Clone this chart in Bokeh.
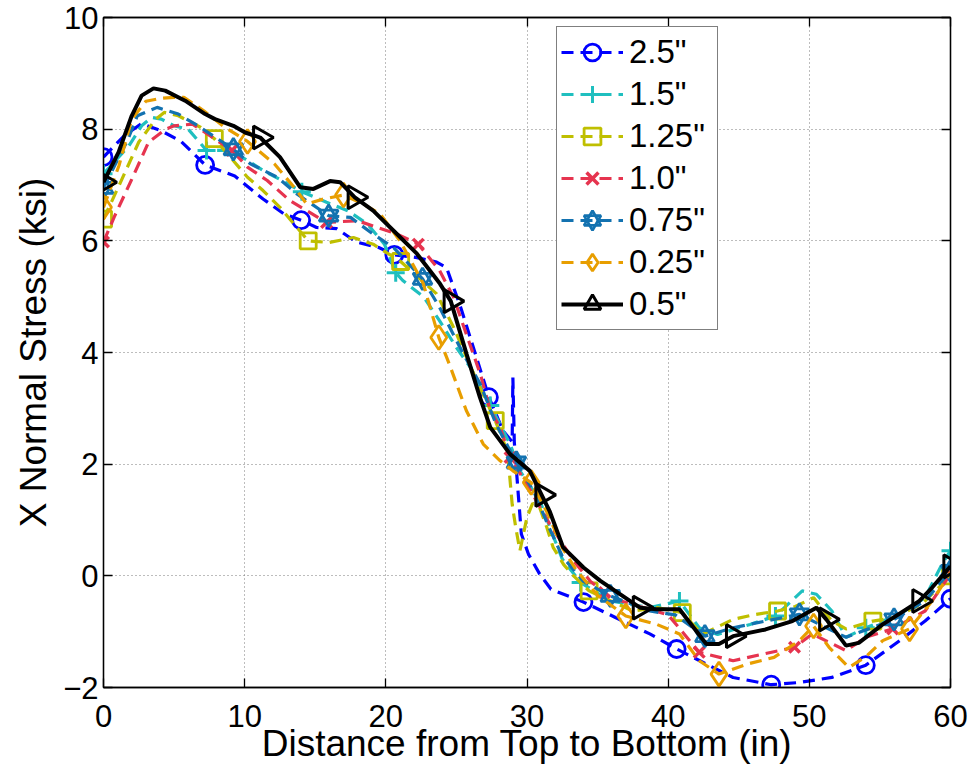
import numpy as np
from bokeh.plotting import figure
from bokeh.models import FixedTicker, LinearAxis, Legend, LegendItem, Range1d, Title
from bokeh.embed import file_html
from bokeh.resources import INLINE

# ---------------- data ----------------
labels = ['2.5"', '1.5"', '1.25"', '1.0"', '0.75"', '0.25"', '0.5"']
x_ticks = [0, 10, 20, 30, 40, 50, 60]
y_ticks = [-2, 0, 2, 4, 6, 8, 10]

x_25 = [0, 1.5, 2.7, 4.1, 5.5, 7.2, 9.3, 11.3, 12.8, 14.0, 15.1, 16.5, 17.9, 19.5, 20.6, 22.2, 23.6, 24.3, 25.3, 26.2,
        27.3, 28.3, 28.95, 29.0, 29.1, 29.4, 29.6, 30.1, 30.9, 31.7, 34.0, 36.3, 38.7, 40.6, 42.7, 44.6, 47.3, 49.3,
        51.6, 54.0, 56.4, 58.2, 60]
y_25 = [7.5, 7.89, 8.1, 7.97, 7.78, 7.36, 7.16, 6.75, 6.48, 6.37, 6.24, 6.22, 5.98, 5.88, 5.75, 5.70, 5.62, 5.52, 4.81,
        4.09, 3.2, 2.6, 2.4, 3.55, 2.4, 1.4, 0.75, 0.39, 0.03, -0.24, -0.47, -0.75, -1.04, -1.31, -1.58, -1.82, -1.95,
        -1.91, -1.82, -1.6, -1.16, -0.81, -0.41]
mx_25 = [0, 7.2, 14.0, 20.6, 27.3, 34.0, 40.6, 47.3, 54.0, 60]
my_25 = [7.5, 7.36, 6.37, 5.75, 3.2, -0.47, -1.31, -1.95, -1.6, -0.41]

x_15 = [0, 1.8, 2.7, 3.4, 4.1, 5.0, 6.0, 7.3, 8.6, 10.0, 11.3, 12.5, 14.05, 15.8, 17.3, 18.7, 19.9, 20.7, 21.2, 22.7,
        23.8, 25.0, 26.0, 27.4, 28.8, 29.5, 30.9, 31.8, 32.5, 33.8, 35.9, 38.7, 40.8, 42.2, 43.5, 45.8, 47.6, 49.5,
        50.5, 51.6, 52.6, 54.0, 56.4, 58.2, 59.4, 60]
y_15 = [7.2, 7.7, 8.06, 8.21, 8.18, 8.06, 8.0, 7.62, 7.62, 7.47, 7.26, 7.1, 6.88, 6.69, 6.54, 6.3, 5.94, 5.43, 5.29,
        4.99, 4.57, 4.09, 3.73, 3.05, 2.36, 1.88, 1.35, 0.75, 0.3, -0.12, -0.45, -0.57, -0.45, -0.93, -1.05, -0.87,
        -0.72, -0.27, -0.33, -0.63, -1.1, -0.93, -0.69, -0.39, 0.21, 0.45]
mx_15 = [0, 7.3, 14.05, 20.7, 27.4, 33.8, 40.8, 47.6, 54.0, 60]
my_15 = [7.2, 7.62, 6.88, 5.43, 3.05, -0.12, -0.45, -0.72, -0.93, 0.45]

x_125 = [0, 1.1, 2.5, 3.7, 4.3, 5.3, 6.9, 7.85, 10.2, 11.3, 12.5, 13.5, 14.5, 16.0, 17.7, 19.1, 21.05, 23.6, 24.8,
         26.45, 27.75, 28.5, 28.7, 28.95, 29.2, 29.5, 30.0, 30.4, 30.9, 31.4, 31.85, 32.6, 33.3, 34.4, 37.5, 39.2,
         41.0, 42.4, 44.6, 46.0, 47.75, 49.0, 50.3, 51.6, 52.6, 54.5, 56.0, 58.0, 60]
y_125 = [6.39, 6.99, 7.77, 8.18, 8.3, 8.24, 8.03, 7.83, 7.14, 6.9, 6.6, 6.3, 6.0, 5.97, 6.06, 5.94, 5.63, 5.05, 4.45,
         3.49, 2.78, 2.3, 2.0, 1.28, 0.87, 0.45, 1.05, 1.3, 1.22, 0.87, 0.51, 0.2, 0.0, -0.27, -0.63, -0.57, -0.66,
         -1.05, -0.78, -0.7, -0.63, -0.55, -0.39, -0.81, -0.95, -0.81, -0.75, -0.5, 0.0]
mx_125 = [0, 7.85, 14.5, 21.05, 27.75, 34.4, 41.0, 47.75, 54.5, 60]
my_125 = [6.39, 7.83, 6.0, 5.63, 2.78, -0.27, -0.66, -0.63, -0.81, 0.0]

x_10 = [0, 0.8, 2.0, 3.2, 4.4, 5.0, 6.3, 7.2, 9.1, 10.2, 11.6, 13.2, 15.8, 18.0, 19.4, 20.8, 22.3, 23.8, 24.8, 25.7,
        26.7, 27.4, 28.1, 28.8, 30.0, 31.6, 33.3, 34.5, 36.0, 38.0, 40.0, 41.0, 42.2, 44.6, 46.75, 48.95, 50.2, 52.6,
        54.0, 55.9, 58.2, 60]
y_10 = [5.98, 6.45, 7.1, 7.77, 8.0, 8.06, 8.09, 7.94, 7.62, 7.32, 7.08, 6.72, 6.33, 6.36, 6.24, 6.12, 5.94, 5.47,
        4.99, 4.33, 3.61, 2.96, 2.66, 2.12, 1.64, 0.93, 0.27, -0.1, -0.4, -0.55, -0.7, -1.0, -1.37, -1.52, -1.4,
        -1.28, -1.04, -1.34, -1.1, -0.95, -0.63, 0.03]
mx_10 = [0, 9.1, 15.8, 22.3, 28.8, 35.5, 42.2, 48.95, 55.9, 60]
my_10 = [5.98, 7.62, 6.33, 5.94, 2.12, -0.3, -1.37, -1.28, -0.95, 0.03]

x_075 = [0, 1.7, 2.4, 3.8, 5.3, 6.7, 9.2, 10.4, 12.3, 13.7, 15.95, 17.5, 19.1, 20.55, 22.6, 23.8, 25.5, 26.7, 27.8,
         29.25, 30.5, 31.5, 32.5, 34.0, 35.9, 38.7, 40.5, 42.6, 44.6, 46.9, 49.3, 51.2, 52.6, 54.2, 56.0, 58.2, 60]
y_075 = [6.95, 7.8, 8.24, 8.39, 8.27, 8.06, 7.64, 7.38, 7.14, 6.84, 6.45, 6.42, 6.12, 5.88, 5.32, 4.81, 3.97, 3.43,
         2.72, 2.03, 1.5, 0.9, 0.35, -0.1, -0.36, -0.63, -0.7, -1.08, -0.93, -0.81, -0.69, -0.93, -1.1, -0.95, -0.78,
         -0.45, 0.09]
mx_075 = [0, 9.2, 15.95, 22.6, 29.25, 35.9, 42.6, 49.3, 56.0, 60]
my_075 = [6.95, 7.64, 6.45, 5.32, 2.03, -0.36, -1.08, -0.69, -0.78, 0.09]

x_025 = [0, 1.1, 2.0, 3.0, 4.0, 5.0, 5.7, 7.1, 8.5, 10.2, 12.1, 13.5, 14.4, 15.6, 17.0, 18.4, 19.6, 21.0, 22.66, 23.75,
         24.5, 25.7, 26.9, 28.1, 29.0, 30.3, 31.5, 32.5, 33.5, 35.0, 37.0, 39.2, 40.8, 42.2, 43.6, 45.6, 47.5, 49.3,
         50.3, 51.4, 52.8, 54.0, 55.2, 57.1, 58.7, 60]
y_025 = [6.6, 7.35, 8.18, 8.5, 8.55, 8.57, 8.57, 8.33, 8.05, 7.78, 7.38, 6.96, 6.66, 6.75, 6.82, 6.66, 6.48, 6.0, 5.23,
         4.27, 3.79, 2.96, 2.36, 2.06, 1.88, 1.67, 1.1, 0.5, 0.1, -0.35, -0.72, -0.87, -1.04, -1.52, -1.76, -1.58,
         -1.46, -1.16, -0.9, -1.28, -1.64, -1.45, -1.16, -0.95, -0.45, 0.06]
mx_025 = [0, 10.2, 17.0, 23.75, 30.3, 37.0, 43.6, 50.3, 57.1]
my_025 = [6.6, 7.78, 6.82, 4.27, 1.67, -0.72, -1.76, -0.9, -0.95]

x_05 = [0, 1.07, 2.0, 2.7, 3.54, 4.37, 5.78, 7.2, 7.9, 9.2, 10.03, 11.1, 12.5, 13.93, 14.87, 16.05, 16.76, 17.8, 19.1,
        20.55, 22.2, 23.84, 24.6, 25.72, 26.66, 27.4, 28.8, 30.2, 31.6, 32.56, 34.0, 35.2, 38.0, 39.16, 40.8, 42.7,
        43.6, 44.6, 46.9, 48.8, 50.5, 51.2, 52.6, 53.5, 55.2, 57.8, 58.7, 60]
y_05 = [7.05, 7.59, 8.24, 8.6, 8.73, 8.69, 8.51, 8.27, 8.18, 8.06, 7.94, 7.85, 7.5, 6.96, 6.93, 7.07, 7.05, 6.78, 6.54,
        6.18, 5.77, 5.23, 4.92, 3.97, 3.2, 2.66, 2.18, 1.88, 1.16, 0.51, 0.15, -0.09, -0.57, -0.6, -0.6, -1.22, -1.22,
        -1.08, -0.96, -0.81, -0.57, -0.78, -1.25, -1.2, -0.87, -0.45, -0.21, 0.17]
mx_05 = [0, 11.1, 17.8, 24.6, 31.1, 38.0, 44.6, 51.2, 57.8, 60]
my_05 = [7.05, 7.85, 6.78, 4.92, 1.45, -0.57, -1.08, -0.78, -0.45, 0.17]

# ---------------- styling ----------------
FONT = "Liberation Sans"
colors = ["#0000ff", "#1fbfbf", "#bfbf00", "#e6344f", "#1372b0", "#e89e00", "#000000"]

p = figure(width=974, height=772, x_range=Range1d(0, 60), y_range=Range1d(-2, 10),
           output_backend="svg", toolbar_location=None,
           min_border_left=103, min_border_right=24, min_border_top=17, min_border_bottom=85)
p.background_fill_color = "white"
p.border_fill_color = "white"
p.outline_line_color = "black"
p.outline_line_width = 1.3

xt = FixedTicker(ticks=x_ticks)
yt = FixedTicker(ticks=y_ticks)
p.xaxis.ticker = xt
p.yaxis.ticker = yt
p.xgrid.ticker = xt
p.ygrid.ticker = yt
for g in (p.xgrid, p.ygrid):
    g.grid_line_color = "#7a7a7a"
    g.grid_line_dash = "1 3"
    g.grid_line_width = 1

p.xaxis.axis_label = "Distance from Top to Bottom (in)"
p.yaxis.major_label_overrides = {-2: "\u22122"}
for ax in (p.xaxis[0], p.yaxis[0]):
    ax.major_tick_in = 9
    ax.major_tick_out = 0
    ax.minor_tick_line_color = None
    ax.axis_line_width = 1.3
    ax.major_tick_line_width = 1.3
    ax.major_label_text_font = FONT
    ax.major_label_text_font_size = "31px"
    ax.major_label_text_color = "black"
    ax.axis_label_text_font = FONT
    ax.axis_label_text_font_size = "37px"
    ax.axis_label_text_font_style = "normal"
    ax.axis_label_text_color = "black"
p.xaxis.major_label_standoff = 17
p.xaxis.axis_label_standoff = -7
p.yaxis.major_label_standoff = 5

ylab = Title(text="X Normal Stress (ksi)", align="center", text_font=FONT, text_font_size="37px",
             text_font_style="normal", text_color="black", standoff=14)
p.add_layout(ylab, "left")

for loc, tk in (("above", xt), ("right", yt)):
    ax = LinearAxis(ticker=tk, major_tick_in=9, major_tick_out=0, minor_tick_line_color=None,
                    axis_line_width=1.3, major_tick_line_width=1.3,
                    major_label_text_font_size="1px", major_label_text_color=None, major_label_standoff=0)
    p.add_layout(ax, loc)

series = [
    (x_25, y_25, mx_25, my_25, "circle"),
    (x_15, y_15, mx_15, my_15, "cross"),
    (x_125, y_125, mx_125, my_125, "square"),
    (x_10, y_10, mx_10, my_10, "x"),
    (x_075, y_075, mx_075, my_075, "hexagram"),
    (x_025, y_025, mx_025, my_025, "diamond"),
    (x_05, y_05, mx_05, my_05, "tri_right"),
]

items = []
for (x, y, mx, my, mk), c, lab in zip(series, colors, labels):
    rs = []
    if mk == "tri_right":
        rs.append(p.line(x, y, line_color=c, line_width=4))
    else:
        rs.append(p.line(x, y, line_color=c, line_width=3.2, line_dash="12 7"))
    if mk == "circle":
        rs.append(p.scatter(mx, my, marker="circle", size=17, fill_color=None, line_color=c, line_width=2.8))
    elif mk == "cross":
        rs.append(p.scatter(mx, my, marker="cross", size=18, line_color=c, line_width=3))
    elif mk == "square":
        rs.append(p.scatter(mx, my, marker="square", size=16, fill_color=None, line_color=c, line_width=2.8))
    elif mk == "x":
        rs.append(p.scatter(mx, my, marker="x", size=15, line_color=c, line_width=3.5))
    elif mk == "hexagram":
        rs.append(p.scatter(mx, my, marker="triangle", size=19, fill_color=None, line_color=c, line_width=2.8))
        rs.append(p.scatter(mx, my, marker="inverted_triangle", size=19, fill_color=None, line_color=c,
                            line_width=2.8))
    elif mk == "diamond":
        rs.append(p.scatter(mx, my, marker="diamond", size=24, fill_color=None, line_color=c, line_width=2.8))
    else:
        rs.append(p.scatter(mx, my, marker="triangle", angle=-np.pi / 2, size=23, fill_color=None,
                            line_color=c, line_width=3))
    items.append(LegendItem(label=lab, renderers=rs))

legend = Legend(items=items, location=(453, 357), border_line_color="black", border_line_width=1.3,
                background_fill_color="white", background_fill_alpha=1.0, padding=4, spacing=0, margin=0,
                glyph_width=62, glyph_height=42, label_height=42, label_standoff=6, label_width=84,
                label_text_font=FONT, label_text_font_size="33px", label_text_color="black")
p.add_layout(legend)

open("out.html", "w").write(file_html(p, INLINE))
